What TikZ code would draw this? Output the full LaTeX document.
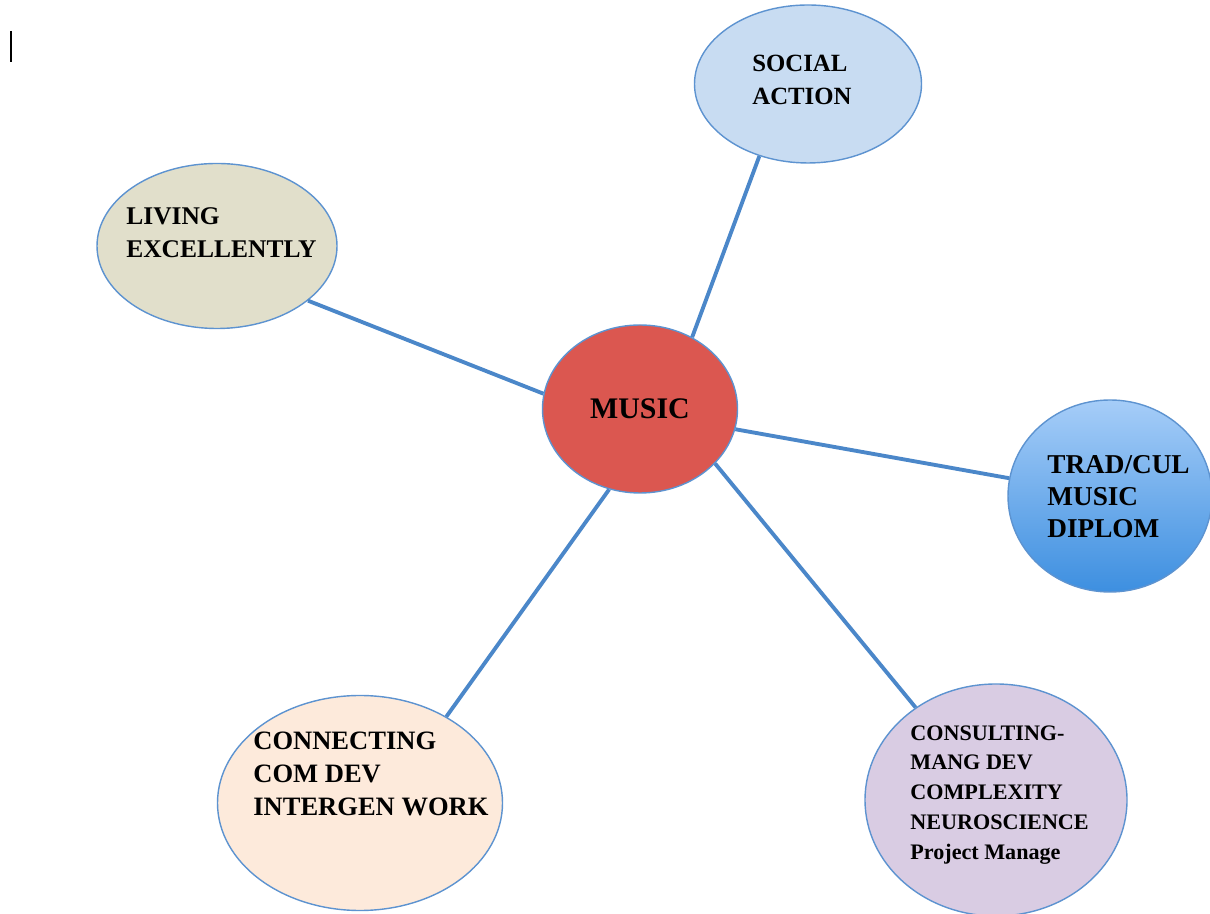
\documentclass[tikz,border=0pt]{standalone}
\usepackage{fontspec}
\setmainfont{Liberation Serif}
\usetikzlibrary{shapes.geometric}

\definecolor{edgeblue}{HTML}{4B87C9}
\definecolor{rimblue}{HTML}{5D93D0}
\definecolor{socialfill}{HTML}{C8DCF2}
\definecolor{livingfill}{HTML}{E1DFCB}
\definecolor{musicfill}{HTML}{DB5750}
\definecolor{tradtop}{HTML}{A6CDF8}
\definecolor{tradbot}{HTML}{3D8FE0}
\definecolor{consultfill}{HTML}{D9CCE3}
\definecolor{connectfill}{HTML}{FDEADB}

\begin{document}
\begin{tikzpicture}

\tikzset{line/.style={draw=edgeblue,line width=2.2pt}}
\tikzset{bubble/.style={ellipse,draw=rimblue,line width=0.8pt,inner sep=0pt}}
\tikzset{txt/.style={anchor=north west,align=left,inner sep=0pt}}

\useasboundingbox (0,0) rectangle (24.2,18.28);

% cursor mark, top left
\draw[line width=1.1pt] (0.22,17.66) -- (0.22,17.04);

\node[bubble,fill=musicfill,minimum width=3.9cm,minimum height=3.36cm,font=\bfseries\fontsize{17}{20}\selectfont] (music) at (12.8,10.1) {MUSIC};

\node[bubble,fill=socialfill,minimum width=4.54cm,minimum height=3.16cm] (social) at (16.16,16.6) {};
\node[bubble,fill=livingfill,minimum width=4.8cm,minimum height=3.3cm] (living) at (4.34,13.36) {};
\node[bubble,top color=tradtop,bottom color=tradbot,minimum width=4.08cm,minimum height=3.84cm] (trad) at (22.2,8.36) {};
\node[bubble,fill=consultfill,minimum width=5.24cm,minimum height=4.64cm] (consult) at (19.92,2.28) {};
\node[bubble,fill=connectfill,minimum width=5.7cm,minimum height=4.3cm] (connect) at (7.2,2.22) {};

\node[txt,font=\bfseries\fontsize{14.1}{18.7}\selectfont] (socialtxt) at (15.04,17.18) {SOCIAL\\ACTION};
\node[txt,font=\bfseries\fontsize{14.5}{18.7}\selectfont] (livingtxt) at (2.52,14.14) {LIVING\\EXCELLENTLY};
\node[txt,font=\bfseries\fontsize{15.5}{18.3}\selectfont] (tradtxt) at (20.94,9.18) {TRAD/CUL\\MUSIC\\DIPLOM};
\node[txt,font=\bfseries\fontsize{12.6}{17}\selectfont] (consulttxt) at (18.2,3.78) {CONSULTING-\\MANG DEV\\COMPLEXITY\\NEUROSCIENCE\\Project Manage};
\node[txt,font=\bfseries\fontsize{15.1}{18.7}\selectfont] (connecttxt) at (5.06,3.64) {CONNECTING\\COM DEV\\INTERGEN WORK};

\path[line] (music.54) to (social.236);
\path[line] (music.171) to (living.329);
\path[line] (music.348) to (trad.170);
\path[line] (music.324) to (consult.131);
\path[line] (music.249) to (connect.45);

\end{tikzpicture}
\end{document}
